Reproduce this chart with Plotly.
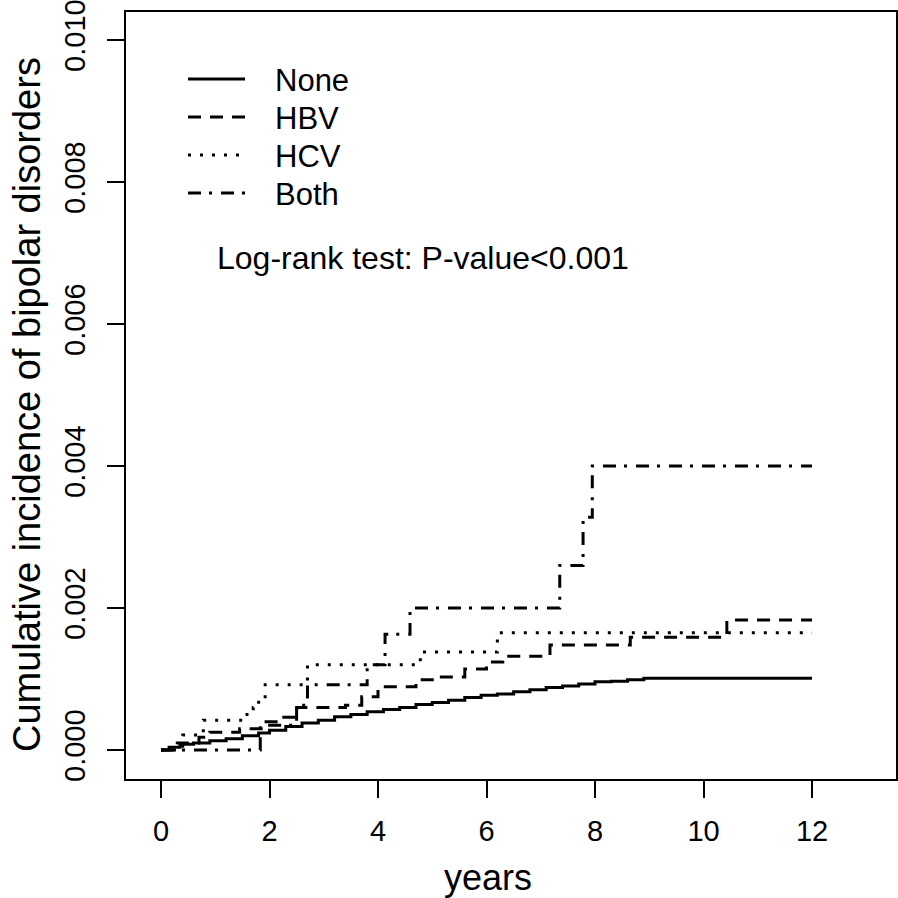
import plotly.graph_objects as go

# ---- data ----
none_t = [0, 0.15, 0.35, 0.6, 0.9, 1.2, 1.5, 1.8, 2.0, 2.3, 2.6, 2.9, 3.2, 3.5, 3.8, 4.1, 4.4, 4.7,
          5.0, 5.3, 5.6, 5.9, 6.2, 6.5, 6.8, 7.1, 7.4, 7.7, 8.0, 8.3, 8.6, 8.9, 12]
none_v = [0, 0.00004, 0.00008, 0.0001, 0.00013, 0.00016, 0.0002, 0.00024, 0.00028, 0.00033, 0.00038,
          0.00042, 0.00047, 0.0005, 0.00054, 0.00057, 0.0006, 0.00064, 0.00067, 0.0007, 0.00074,
          0.00077, 0.00079, 0.00082, 0.00085, 0.00088, 0.0009, 0.00093, 0.00096, 0.00097, 0.00099,
          0.00101, 0.00101]

hbv_t = [0, 0.3, 0.7, 0.9, 1.45, 1.9, 2.2, 2.5, 3.4, 3.7, 4.0, 4.7, 5.0, 5.6, 6.0, 6.3, 7.17, 8.65, 10.43, 12]
hbv_v = [0, 0.0001, 0.00018, 0.00025, 0.0003, 0.0004, 0.00046, 0.0006, 0.00063, 0.00075, 0.00089,
         0.00099, 0.00103, 0.00114, 0.00124, 0.00132, 0.00148, 0.00159, 0.00183, 0.00183]

hcv_t = [0, 0.4, 0.78, 1.5, 1.7, 1.8, 1.92, 2.7, 4.78, 6.2, 12]
hcv_v = [0, 0.00021, 0.00042, 0.0005, 0.0006, 0.00073, 0.00092, 0.0012, 0.00138, 0.00165, 0.00165]

both_t = [0, 1.83, 2.5, 2.7, 3.8, 4.13, 4.59, 7.35, 7.78, 7.95, 12]
both_v = [0, 0.00035, 0.00063, 0.00092, 0.0012, 0.00163, 0.002, 0.0026, 0.00328, 0.004, 0.004]

series_names = ["None", "HBV", "HCV", "Both"]
x_ticks = [0, 2, 4, 6, 8, 10, 12]
y_ticks = [0.000, 0.002, 0.004, 0.006, 0.008, 0.010]
y_tick_labels = ["0.000", "0.002", "0.004", "0.006", "0.008", "0.010"]

# ---- styling ----
FONT = "Liberation Sans, Arial, sans-serif"
dashes = ["solid", "13px,9px", "3px,9px", "13px,8px,3px,9px"]
LW = 3

W = H = 898
# plot box in window pixels
L, R, T, B = 126, 896, 12, 779


def px(x):
    return (x - L) / (R - L)


def py(y):
    return (B - y) / (B - T)


fig = go.Figure()
for name, t, v, d in zip(series_names, [none_t, hbv_t, hcv_t, both_t],
                         [none_v, hbv_v, hcv_v, both_v], dashes):
    fig.add_trace(go.Scatter(x=t, y=v, mode="lines", name=name, line_shape="hv",
                             line=dict(color="black", width=LW, dash=d), showlegend=False))

# manual legend (R style)
shapes = []
annotations = []
leg_y = [79, 117, 155, 193]
for name, d, yy in zip(series_names, dashes, leg_y):
    shapes.append(dict(type="line", xref="paper", yref="paper", x0=px(188), x1=px(245),
                       y0=py(yy), y1=py(yy), line=dict(color="black", width=LW, dash=d)))
    annotations.append(dict(xref="paper", yref="paper", x=px(273), y=py(yy + 1), text=name,
                            showarrow=False, xanchor="left", yanchor="middle",
                            font=dict(family=FONT, size=31, color="black")))

annotations.append(dict(xref="paper", yref="paper", x=px(215), y=py(258),
                        text="Log-rank test: P-value<0.001", showarrow=False,
                        xanchor="left", yanchor="middle",
                        font=dict(family=FONT, size=32, color="black")))
annotations.append(dict(xref="paper", yref="paper", x=px(488), y=py(878), text="years",
                        showarrow=False, xanchor="center", yanchor="middle",
                        font=dict(family=FONT, size=36, color="black")))
annotations.append(dict(xref="paper", yref="paper", x=px(27), y=py(405),
                        text="Cumulative incidence of bipolar disorders", textangle=-90,
                        showarrow=False, xanchor="center", yanchor="middle",
                        font=dict(family=FONT, size=38, color="black")))

fig.update_layout(
    width=W, height=H,
    margin=dict(l=L, r=W - R, t=T, b=H - B, pad=0),
    paper_bgcolor="white", plot_bgcolor="white",
    shapes=shapes, annotations=annotations,
    font=dict(family=FONT, color="black"),
)
fig.update_xaxes(range=[-0.645, 13.548], tickvals=x_ticks, ticks="outside", ticklen=17,
                 tickwidth=2, tickcolor="black", showline=True, linecolor="black",
                 linewidth=2, mirror=True, showgrid=False, zeroline=False, automargin=False,
                 tickfont=dict(family=FONT, size=29, color="black"), ticklabelstandoff=8,
                 ticklabeloverflow="allow")
fig.update_yaxes(range=[-0.000408, 0.010394], tickvals=y_ticks, ticktext=y_tick_labels,
                 tickangle=-90, ticks="outside", ticklen=17, tickwidth=2, tickcolor="black",
                 showline=True, linecolor="black", linewidth=2, mirror=True, showgrid=False,
                 zeroline=False, automargin=False,
                 tickfont=dict(family=FONT, size=29, color="black"),
                 ticklabelstandoff=10, ticklabeloverflow="allow")

fig.write_html("out.html", config={"displayModeBar": False},
               post_script="document.body.style.margin='0px';document.body.style.overflow='hidden';")
